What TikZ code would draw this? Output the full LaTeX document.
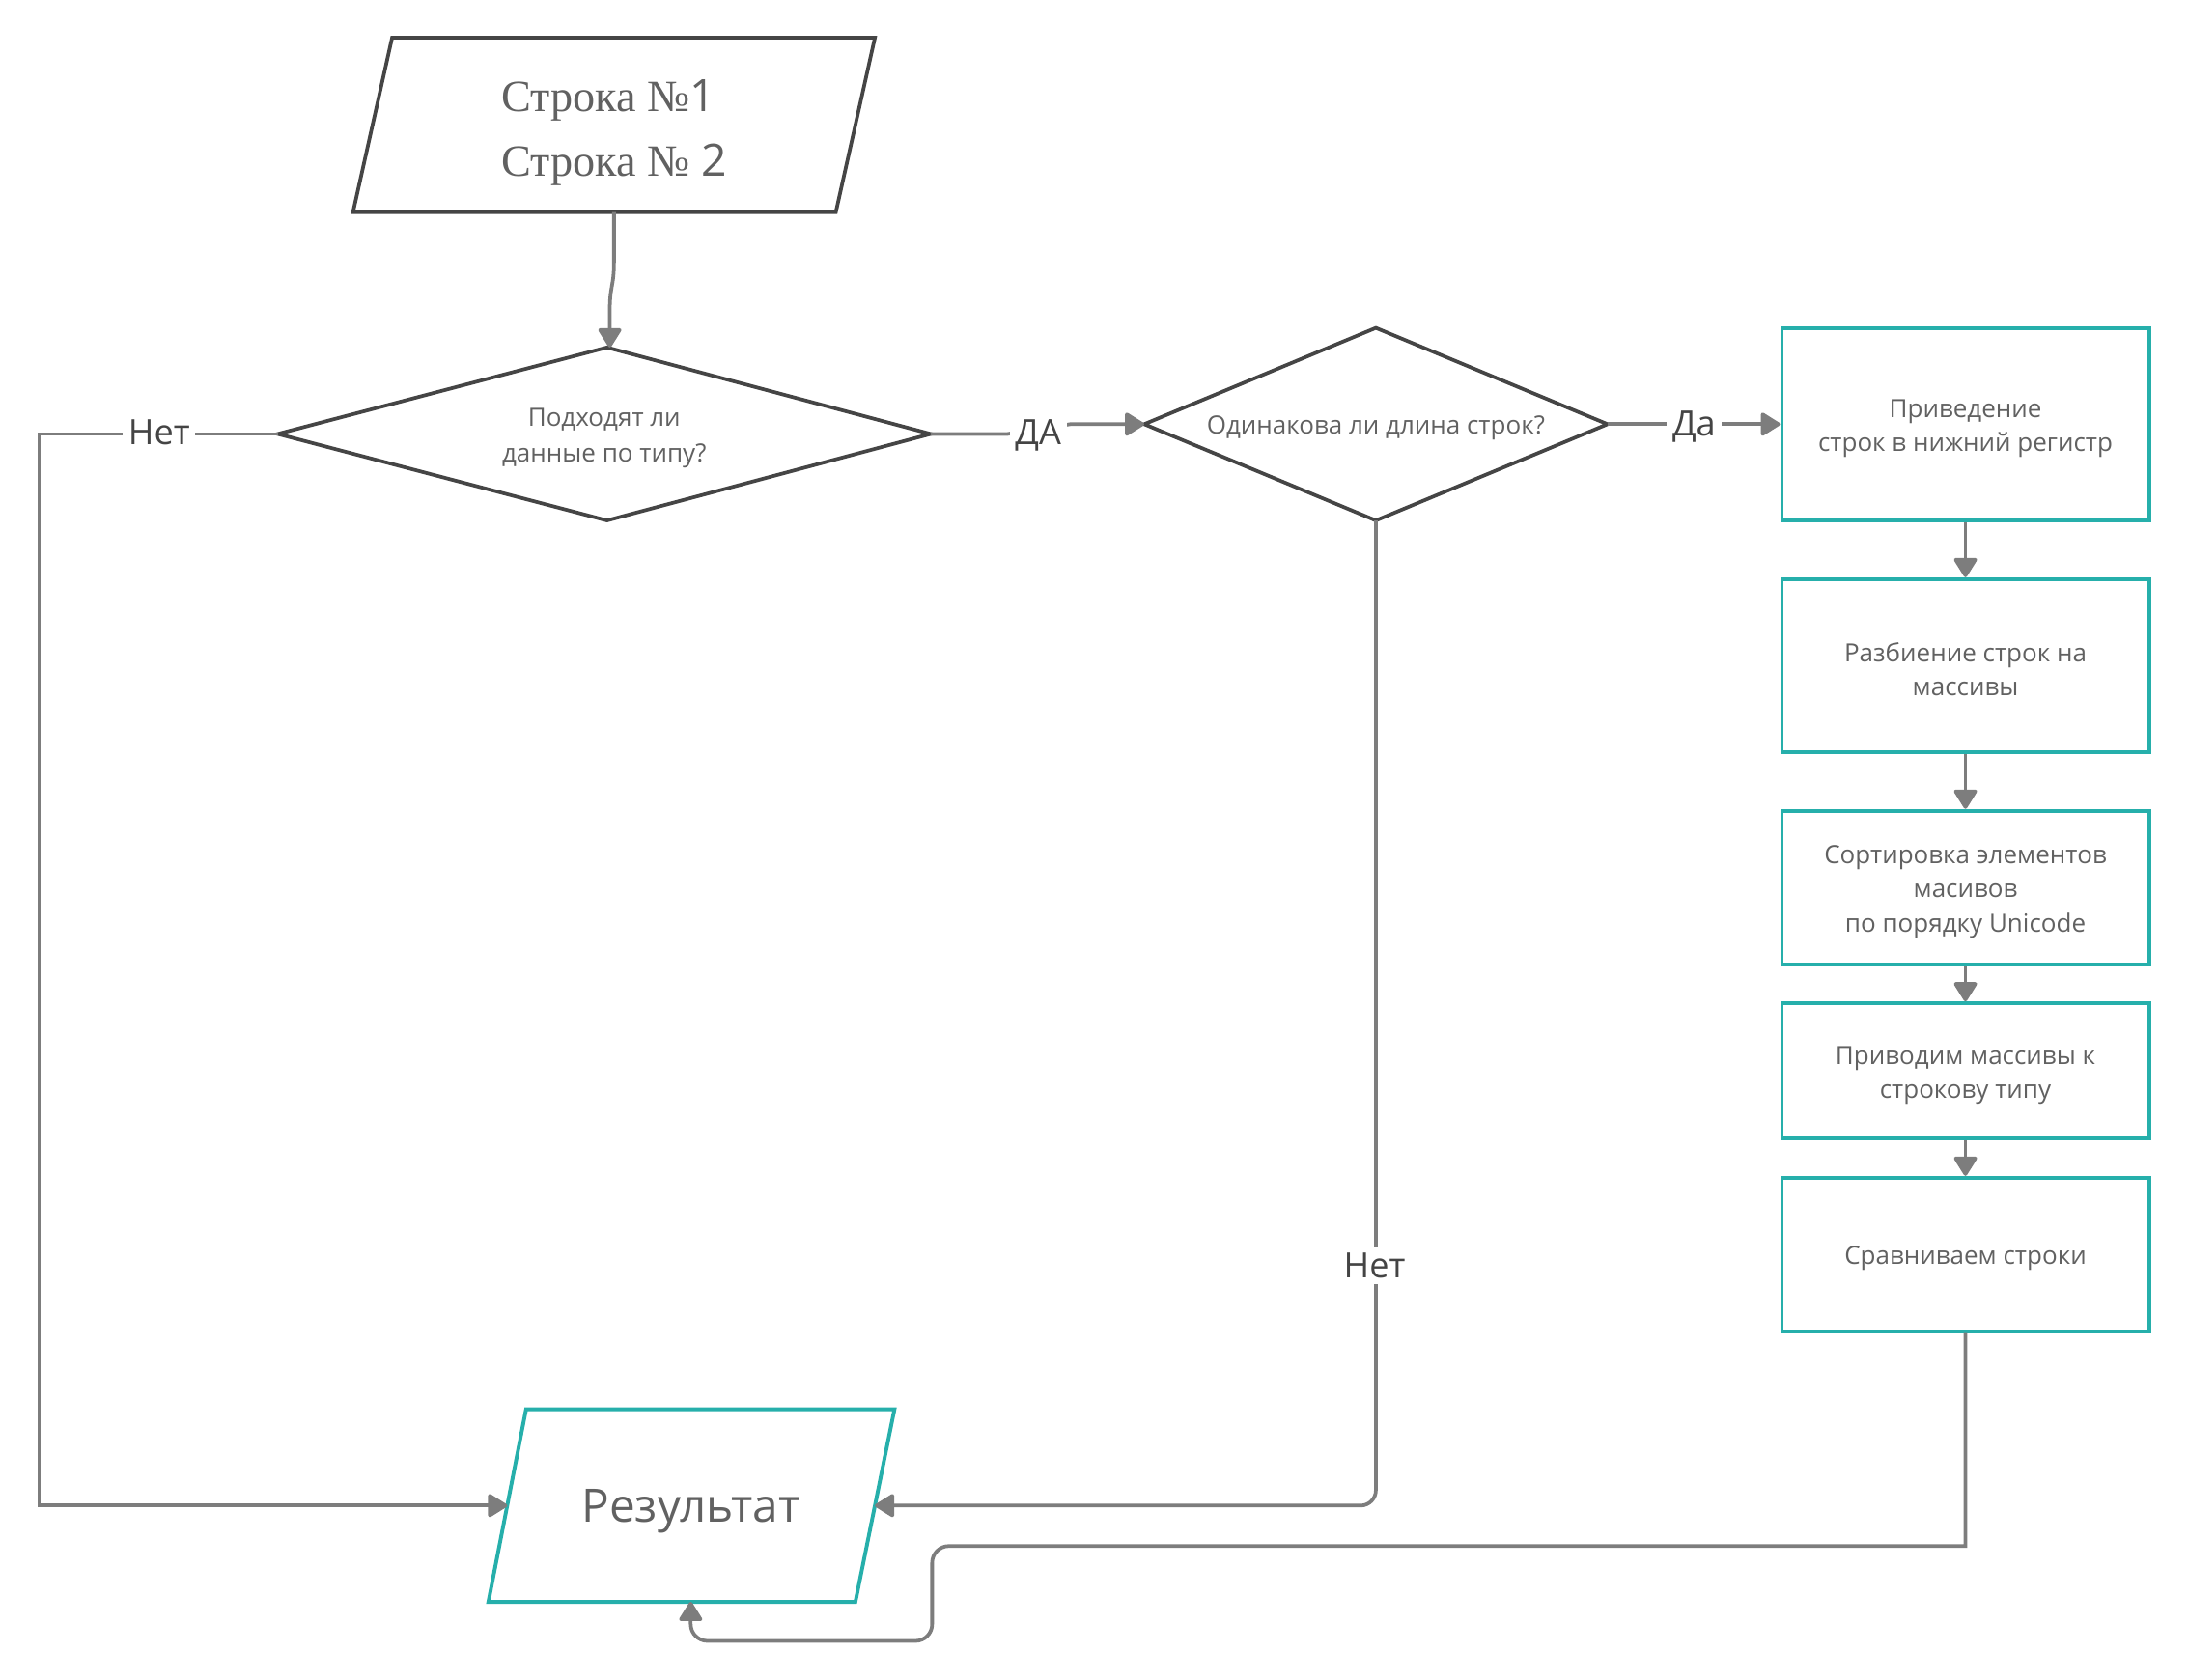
\documentclass[tikz,border=0pt]{standalone}
\usepackage{fontspec}
\setmainfont{Open Sans}
\newfontfamily\serif{Liberation Serif}
\newfontfamily\sans{Open Sans}
\usetikzlibrary{arrows.meta}
\definecolor{outl}{HTML}{454545}
\definecolor{tealb}{HTML}{26AFAB}
\definecolor{connc}{HTML}{7D7D7D}
\definecolor{txtc}{HTML}{616161}
\definecolor{lblc}{HTML}{444444}
% extra head room on the first line of a box label
\newcommand\headroom{\rule{0pt}{19pt}}
\begin{document}
\begin{tikzpicture}[x=1pt,y=-1pt,
  outline/.style={draw=outl, line width=2.6pt, line join=miter},
  tealline/.style={draw=tealb, line width=2.7pt, line join=miter},
  proc/.style={draw=tealb, line width=2.7pt, minimum width=263pt, inner sep=0pt,
    align=center, text=txtc, font=\fontsize{18}{24.5}\selectfont},
  small/.style={text=txtc, align=center, inner sep=0pt, font=\fontsize{18}{25}\selectfont},
  link/.style={draw=connc, line width=2.6pt},
  arrow/.style={link, -{Triangle[length=15pt,width=18pt,round]}},
  lbl/.style={fill=white, inner sep=4pt, text=lblc, font=\fontsize{25}{30}\selectfont}]
\useasboundingbox (0,0) rectangle (1568,1204);

% input block: two strings
\draw[outline] (281,27) -- (627,27) -- (599,152) -- (253,152) -- cycle;
\coordinate (in-s) at (440,152);
\node[text=txtc, align=left, inner sep=0pt, font=\fontsize{32}{46}\selectfont] (in) at (440,95)
  {{\serif Строка №}{\sans 1}\\{\serif Строка № }{\sans 2}};

% decision: data types
\draw[outline] (199,311) -- (435,249) -- (667,311) -- (435,373) -- cycle;
\coordinate (d1-w) at (199,311);
\coordinate (d1-n) at (437,249);
\coordinate (d1-e) at (667,311);
\node[small] (d1) at (433,314) {Подходят ли\\данные по типу?};

% decision: lengths
\draw[outline] (820,304) -- (986,235) -- (1152,304) -- (986,373) -- cycle;
\coordinate (d2-w) at (820,304);
\coordinate (d2-e) at (1152,304);
\coordinate (d2-s) at (986,373);
\node[small] (d2) at (986,307) {Одинакова ли длина строк?};

% processing chain
\node[proc, minimum height=138pt] (b1) at (1408.5,304) {\headroom Приведение\\строк в нижний регистр};
\node[proc, minimum height=124pt] (b2) at (1408.5,477) {\headroom Разбиение строк на\\массивы};
\node[proc, minimum height=110pt] (b3) at (1408.5,636) {\headroom Сортировка элементов\\масивов\\по порядку Unicode};
\node[proc, minimum height=97pt] (b4) at (1408.5,767.5) {\headroom Приводим массивы к\\строкову типу};
\node[proc, minimum height=110pt] (b5) at (1408.5,899) {\headroom Сравниваем строки};

% output block
\draw[tealline] (377,1010) -- (641,1010) -- (613,1148) -- (350,1148) -- cycle;
\coordinate (r-w) at (363.5,1079);
\coordinate (r-e) at (627,1079);
\coordinate (r-s) at (495,1148);
\node[text=txtc, inner sep=0pt, font=\fontsize{33}{40}\selectfont] (res) at (495,1083) {Результат};

% connectors
\draw[arrow] (in-s) -- (440,188) .. controls (440,205) and (437,205) .. (437,222) -- (d1-n);

\draw[arrow] (d1-w) -- (28,311) -- (28,1079) -- (r-w);
\node[lbl] (no1) at (114,310) {Нет};

\draw[arrow] (d1-e) -- (722,311) -- (767,304) -- (d2-w);
\node[lbl] (yes1) at (744,312) {ДА};

\draw[arrow] (d2-e) -- (b1.west);
\node[lbl] (yes2) at (1214,306) {Да};

\draw[arrow] (b1.south) -- (b2.north);
\draw[arrow] (b2.south) -- (b3.north);
\draw[arrow] (b3.south) -- (b4.north);
\draw[arrow] (b4.south) -- (b5.north);

\draw[arrow, rounded corners=11pt] (d2-s) -- (986,1079) -- (r-e);
\node[lbl] (no2) at (985,907) {Нет};

\draw[arrow] (b5.south) -- (1408.5,1108) [rounded corners=12pt] -- (668,1108) -- (668,1176) -- (495,1176) -- (r-s);
\end{tikzpicture}
\end{document}
